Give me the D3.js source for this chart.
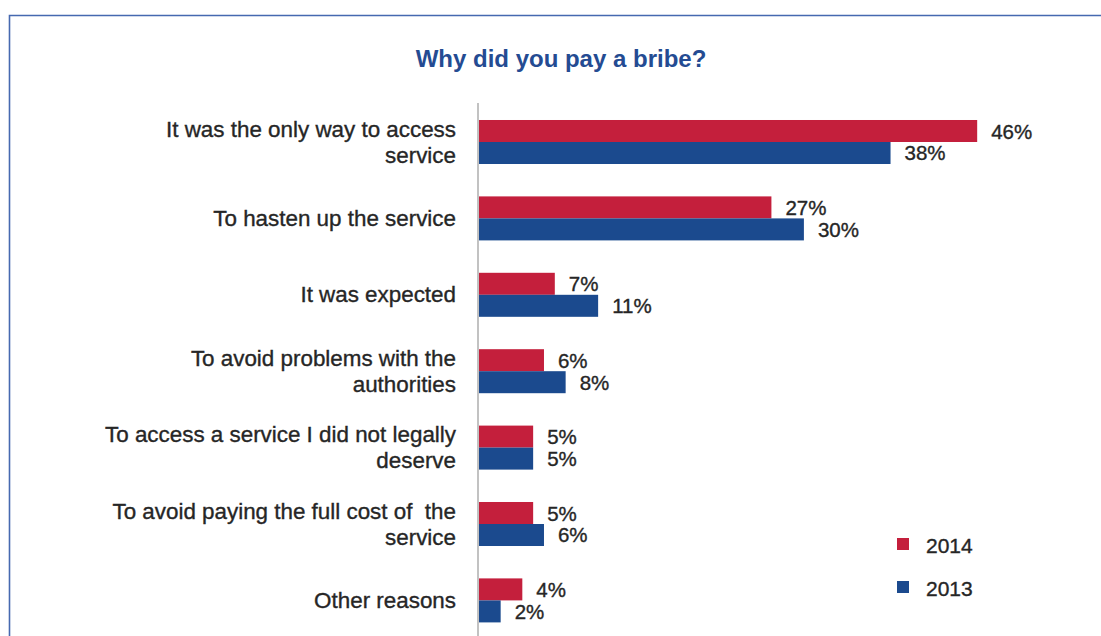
<!DOCTYPE html>
<html>
<head>
<meta charset="utf-8">
<script src="https://cdn.jsdelivr.net/npm/d3@7"></script>
<style>
  html, body { margin: 0; padding: 0; background: #ffffff; }
  svg { display: block; font-family: "Liberation Sans", Arial, Helvetica, sans-serif; }
</style>
</head>
<body>
<svg id="chart" width="1101" height="636"></svg>
<script>
// Reasons given for paying a bribe (line breaks mark label wrapping)
const categories = [
  "It was the only way to access\nservice",
  "To hasten up the service",
  "It was expected",
  "To avoid problems with the\nauthorities",
  "To access a service I did not legally\ndeserve",
  "To avoid paying the full cost of  the\nservice",
  "Other reasons"
];
const years = ["2014", "2013"];
const values2014 = [46, 27, 7, 6, 5, 5, 4];
const values2013 = [38, 30, 11, 8, 5, 6, 2];
const titleText = "Why did you pay a bribe?";

const colors = { "2014": "#c41f3c", "2013": "#1b4a8e" };
const textColor = "#262626";

const svg = d3.select("#chart");

// Frame lines along the top and left edges
svg.append("path")
  .attr("d", "M9.5,636 L9.5,15.5 L1101,15.5")
  .attr("fill", "none")
  .attr("stroke", "#4669b0")
  .attr("stroke-width", 1.6);

// Title
svg.append("text")
  .attr("x", 561)
  .attr("y", 67)
  .attr("text-anchor", "middle")
  .attr("font-size", 24)
  .attr("font-weight", "bold")
  .attr("fill", "#244b92")
  .text(titleText);

// Scales
const x = d3.scaleLinear().domain([0, 50]).range([479, 1020.5]);
const y = d3.scaleBand()
  .domain(categories)
  .range([103.8, 638.6])
  .paddingInner(0.424)
  .paddingOuter(0.212);
const ySub = d3.scaleBand().domain(years).range([0, y.bandwidth()]);

const rows = categories.map((c, i) => ({
  category: c,
  bars: [
    { year: "2014", value: values2014[i] },
    { year: "2013", value: values2013[i] }
  ]
}));

// Bars
const groups = svg.append("g").selectAll("g")
  .data(rows)
  .join("g")
  .attr("transform", d => `translate(0,${y(d.category)})`);

groups.selectAll("rect")
  .data(d => d.bars)
  .join("rect")
  .attr("x", x(0))
  .attr("y", d => ySub(d.year))
  .attr("width", d => x(d.value) - x(0))
  .attr("height", ySub.bandwidth())
  .attr("fill", d => colors[d.year]);

// Value labels
groups.selectAll("text.value")
  .data(d => d.bars)
  .join("text")
  .attr("class", "value")
  .attr("x", d => x(d.value) + 14)
  .attr("y", d => ySub(d.year) + ySub.bandwidth() / 2)
  .attr("dominant-baseline", "central")
  .attr("font-size", 20.5)
  .attr("fill", textColor)
  .attr("stroke", textColor)
  .attr("stroke-width", 0.35)
  .text(d => d.value + "%");

// Category axis line
svg.append("line")
  .attr("x1", 478).attr("x2", 478)
  .attr("y1", 103).attr("y2", 636)
  .attr("stroke", "#c2c2c2")
  .attr("stroke-width", 2);

// Category labels, right-aligned to the left of the axis
const lineHeight = 26;
const labels = svg.append("g").selectAll("text")
  .data(categories)
  .join("text")
  .attr("text-anchor", "end")
  .attr("font-size", 22.4)
  .attr("fill", textColor)
  .attr("stroke", textColor)
  .attr("stroke-width", 0.35)
  .style("white-space", "pre");

labels.each(function(c) {
  const lines = c.split("\n");
  const center = y(c) + y.bandwidth() / 2;
  const first = center - (lines.length - 1) * lineHeight / 2;
  d3.select(this).selectAll("tspan")
    .data(lines)
    .join("tspan")
    .attr("x", 456)
    .attr("y", (l, i) => first + i * lineHeight)
    .attr("dominant-baseline", "central")
    .text(l => l);
});

// Legend
const legend = svg.append("g").selectAll("g")
  .data(years)
  .join("g")
  .attr("transform", (d, i) => `translate(897,${544 + i * 43})`);

legend.append("rect")
  .attr("x", 0).attr("y", -6)
  .attr("width", 12).attr("height", 12)
  .attr("fill", d => colors[d]);

legend.append("text")
  .attr("x", 29)
  .attr("y", 1)
  .attr("dominant-baseline", "central")
  .attr("font-size", 21)
  .attr("fill", textColor)
  .attr("stroke", textColor)
  .attr("stroke-width", 0.35)
  .text(d => d);
</script>
</body>
</html>
